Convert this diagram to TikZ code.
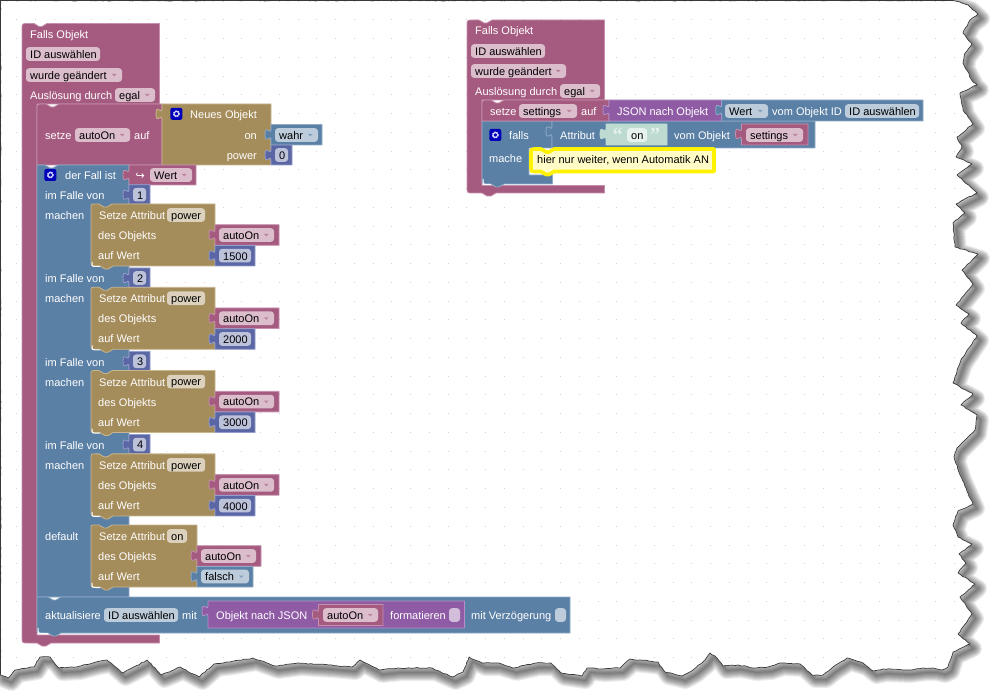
\documentclass[tikz,border=0pt]{standalone}
\usepackage{fontspec}
\setmainfont{Liberation Sans}
\newfontfamily\djv{DejaVu Sans}
\newfontfamily\lserif{Liberation Serif}
\usetikzlibrary{decorations.pathmorphing}
\definecolor{hatc}{HTML}{A55B80}\definecolor{hatl}{HTML}{C68FAB}\definecolor{hatf}{HTML}{DBBDCC}
\definecolor{bluc}{HTML}{5B80A5}\definecolor{blul}{HTML}{8FABC8}\definecolor{bluf}{HTML}{BDCCDB}
\definecolor{brnc}{HTML}{A58C5B}\definecolor{brnl}{HTML}{C8B68F}\definecolor{brnf}{HTML}{DBD1BD}
\definecolor{matc}{HTML}{5B67A5}\definecolor{matl}{HTML}{949DCB}\definecolor{matf}{HTML}{BDC2DB}
\definecolor{purc}{HTML}{8F5BA5}\definecolor{purl}{HTML}{B48FC8}\definecolor{purf}{HTML}{D2BDDB}
\definecolor{txtc}{HTML}{BDDBD1}\definecolor{txtf}{HTML}{E6F2EE}
\newcounter{nn}
\tikzset{
  lbl/.style={anchor=base west,inner sep=0pt,text=white,font=\fontsize{11}{13}\selectfont},
  flt/.style={anchor=base west,inner sep=0pt,text=black,font=\fontsize{11}{13}\selectfont},
  rlbl/.style={lbl,anchor=base east},
  blk/.style={line width=.8pt,line join=round},
  tornp/.style={line join=round}
}
% tab going upward
\newcommand\tabL[2]{-- (#1,#2+11) .. controls (#1,#2+3.7) and (#1-6,#2+16.9) .. (#1-6,#2+5.5) .. controls (#1-6,#2-5.9) and (#1,#2+7.3) .. (#1,#2)}
\newcommand\notchT[2]{-- (#1,#2) -- (#1+5,#2+3) -- (#1+8,#2+3) -- (#1+13,#2)}
\newcommand\notchB[2]{-- (#1+13,#2) -- (#1+8,#2+3) -- (#1+5,#2+3) -- (#1,#2)}
% text label: x, centre y, text
\newcommand\lbl[3]{\stepcounter{nn}\node[lbl] (n\arabic{nn}) at (#1,#2+4.7) {#3};}
\newcommand\rlb[3]{\stepcounter{nn}\node[rlbl] (n\arabic{nn}) at (#1,#2+4.7) {#3};}
% field: fill, x1, x2, cy, text
\newcommand\fld[5]{\fill[#1,rounded corners=3pt] (#2,#4-6.8) rectangle (#3,#4+6.8);
  \stepcounter{nn}\node[flt] (n\arabic{nn}) at (#2+4,#4+4.4) {#5};}
% dropdown field: fill, arrowcolour, x1, x2, cy, text
\newcommand\dfl[6]{\fld{#1}{#3}{#4}{#5}{#6}
  \fill[#2!75!white] (#4-10,#5-1) -- (#4-5.5,#5-1) -- (#4-7.75,#5+1.5) -- cycle;}
% value block: fill, stroke, x1,y1,x2,y2
\newcommand\vb[6]{\draw[blk,fill=#1,draw=#2] (#3,#4) -- (#5,#4) -- (#5,#6) -- (#3,#6) \tabL{#3}{#4+4.5} -- cycle;}
\newcommand\gear[2]{\fill[fill=blue!72!black,rounded corners=2pt] (#1-6,#2-6) rectangle (#1+6,#2+6);
  \draw[white!85!blue,line width=1.4pt,dash pattern=on 1.4pt off .9pt] (#1,#2) circle (2.8);
  \draw[white!85!blue,line width=.9pt] (#1,#2) circle (2.3);}
% Setze Attribut: top, x2, attr, attr field x2
\newcommand\setzeattr[4]{
  \draw[blk,fill=brnc,draw=brnl] (91,#1+4) .. controls (91,#1) .. (95,#1) \notchT{99}{#1} -- (#2,#1) -- (#2,#1+62) \notchB{100}{#1+62} -- (96,#1+62) .. controls (91,#1+62) .. (91,#1+57) -- cycle;
  \draw[white,line width=1pt] (92,#1+58) .. controls (92,#1+62.5) .. (96,#1+62.5) -- (100,#1+62.5);
  \lbl{99}{#1+11}{Setze Attribut}
  \fld{brnf}{167}{#4}{#1+11}{#3}
  \lbl{98}{#1+31}{des Objekts}
  \lbl{98}{#1+51}{auf Wert}
  \vb{hatc}{hatl}{#2}{#1+20.7}{#2+64}{#1+41.3}
  \dfl{hatf}{hatc}{#2+4}{#2+59}{#1+31}{autoOn}
}
\newcommand\caserow[3]{
  \lbl{45}{#1-9}{im Falle von}
  \lbl{45}{#1+11}{machen}
  \vb{matc}{matl}{129}{#1-19.3}{150}{#1}
  \fld{matf}{133}{146}{#1-9.3}{#2}
  \setzeattr{#1}{215}{power}{205}
  \vb{matc}{matl}{215}{#1+41.5}{255}{#1+62}
  \fld{matf}{219}{251}{#1+51.7}{#3}
}
\newcommand\hatblock[6]{% x1 x2 ytop yinner ybar1 ybar2
  \draw[blk,fill=hatc,draw=hatl] (#1,#3+6) .. controls (#1,#3) .. (#1+6,#3) \notchT{#1+12}{#3} -- (#2,#3) -- (#2,#4) -- (#1+15,#4) -- (#1+15,#5) -- (#2,#5) -- (#2,#6) -- (#1+29,#6) -- (#1+24,#6+3) -- (#1+20,#6+3) -- (#1+15,#6) -- (#1+6,#6) .. controls (#1,#6) .. (#1,#6-6) -- cycle;
}
\newcommand\tornpath{(0.5,0.5) -- (953,0.5) -- (968,5) -- (978,14) -- (970,20) -- (963,33) -- (972,44) -- (965,53) -- (963,63) -- (973,82) -- (977,85) -- (960,93) -- (963,110) -- (973,124) -- (957,137) -- (962,147) -- (956,157) -- (972,164) -- (957,175) -- (977,193) -- (956,204) -- (965,213) -- (953,223) -- (955,247) -- (978,254) -- (962,270) -- (973,284) -- (956,305) -- (969,314) -- (961,323) -- (977,336) -- (961,360) -- (953,383) -- (973,394) -- (961,405) -- (977,415) -- (975,430) -- (957,448) -- (954,457) -- (960,475) -- (968,493) -- (973,504) -- (958,511) -- (953,525) -- (958,537) -- (972,544) -- (959,554) -- (966,563) -- (958,573) -- (975,584) -- (960,597) -- (972,614) -- (958,634) -- (970,644) -- (953,652) -- (948,667) -- (942,670) -- (933,668) -- (923,668) -- (907,670) -- (883,669) -- (873,671) -- (863,663) -- (847,658) -- (833,667) -- (823,675) -- (812,675) -- (800,664) -- (780,663) -- (768,667) -- (753,668) -- (738,665) -- (723,666) -- (717,658) -- (710,653) -- (705,660) -- (693,670) -- (682,676) -- (665,672) -- (658,662) -- (640,660) -- (630,659) -- (620,668) -- (603,669) -- (587,668) -- (582,676) -- (561,673) -- (551,663) -- (536,663) -- (513,668) -- (497,663) -- (482,663) -- (469,657) -- (463,672) -- (452,677) -- (432,668) -- (398,668) -- (379,670) -- (360,660) -- (352,667) -- (329,665) -- (298,663) -- (275,666) -- (253,658) -- (230,662) -- (214,664) -- (199,677) -- (180,667) -- (161,675) -- (147,660) -- (132,668) -- (122,673) -- (107,660) -- (96,662) -- (77,667) -- (59,668) -- (50,657) -- (40,657) -- (34,667) -- (15,670) -- (8,678) -- (0.5,675) -- cycle}
\begin{document}
\begin{tikzpicture}[x=1pt,y=-1pt]
\useasboundingbox (0,0) rectangle (999,700);
\fill[white] (0,0) rectangle (999,700);
% shadow: soft, stacked strokes
\begin{scope}
\clip (0,0) rectangle (999,700);
\foreach \w in {17,15,13,11,9,7,5,3,1}{
  \draw[tornp,shift={(3.5,4.5)},draw=black,line width=\w pt,opacity=.075] \tornpath;
}
\end{scope}
% paper
\pgfmathsetseed{7}
\draw[fill=white,draw=black!78,line width=.7pt,line join=round,decorate,decoration={random steps,segment length=3pt,amplitude=.5pt}] \tornpath;
\draw[draw=black!78,line width=1.2pt] (0.5,675) -- (0.5,0.5) -- (953,0.5);
% grid dots
\begin{scope}
\clip \tornpath;
\foreach \i in {0,...,51}{\foreach \j in {0,...,36}{
  \fill[black!18] ({16.3+18.75*\i},{0.75+18.75*\j}) rectangle ++(1,1);
}}
\end{scope}

% ===== left programme =====
\hatblock{22}{159.5}{23.5}{104}{635}{643}
\lbl{30}{34}{Falls Objekt}
\fld{hatf}{26}{100}{54}{ID auswählen}
\dfl{hatf}{hatc}{26}{122}{75}{wurde geändert}
\lbl{30}{95}{Auslösung durch}
\dfl{hatf}{hatc}{115}{155}{95}{egal}
% setze autoOn
\draw[blk,fill=hatc,draw=hatl] (37,110) .. controls (37,104) .. (43,104) \notchT{46}{104} -- (162,104) -- (162,165) -- (37,165) -- cycle;
\lbl{45}{135}{setze}
\dfl{hatf}{hatc}{75}{130}{135}{autoOn}
\lbl{134}{135}{auf}
% Neues Objekt
\vb{brnc}{brnl}{162}{104}{271}{165}
\gear{176.4}{113.8}
\lbl{190}{114}{Neues Objekt}
\rlb{257}{135}{on}
\rlb{257}{155}{power}
\vb{bluc}{blul}{271}{124.5}{322}{145}
\dfl{bluf}{bluc}{275}{318}{135}{wahr}
\vb{matc}{matl}{271}{145}{292}{165}
\fld{matf}{275}{288}{155}{0}
% case block
\draw[blk,fill=bluc,draw=blul] (37,165) \notchT{45}{165} -- (129,165) -- (129,597) -- (37,597) -- cycle;
\gear{50.3}{175}
\lbl{65}{175}{der Fall ist}
\vb{hatc}{hatl}{129}{165}{196}{185}
\stepcounter{nn}\node[lbl,font=\djv\fontsize{11}{13}\selectfont] (n\arabic{nn}) at (135.5,179.5) {↪};
\dfl{hatf}{hatc}{150}{192}{175}{Wert}
\caserow{204}{1}{1500}
\caserow{287.3}{2}{2000}
\caserow{370.6}{3}{3000}
\caserow{453.9}{4}{4000}
\lbl{45}{536}{default}
\setzeattr{525}{197}{on}{187}
\vb{bluc}{blul}{197}{566.5}{253}{587}
\dfl{bluf}{bluc}{201}{249}{576.5}{falsch}
% aktualisiere
\draw[blk,fill=bluc,draw=blul] (37,597) \notchT{48}{597} -- (570,597) -- (570,633) \notchB{48}{633} -- (43,633) .. controls (37,633) .. (37,627) -- cycle;
\draw[white,line width=1pt] (38,628) .. controls (38,633.5) .. (43,633.5) -- (48,633.5);
\lbl{45}{615}{aktualisiere}
\fld{bluf}{104}{178}{615}{ID auswählen}
\lbl{182}{615}{mit}
\vb{purc}{purl}{208}{601}{464.5}{628}
\lbl{216}{615}{Objekt nach JSON}
\vb{hatc}{hatl}{318.5}{604.5}{383}{625.5}
\dfl{hatf}{hatc}{323}{378}{615}{autoOn}
\lbl{390}{615}{formatieren}
\fill[purf,rounded corners=3pt] (449,608.2) rectangle (460,621.8);
\lbl{471}{615}{mit Verzögerung}
\fill[bluf,rounded corners=3pt] (555,608.2) rectangle (566,621.8);

% ===== right programme =====
\hatblock{467}{604.5}{20}{100}{185.6}{193}
\lbl{475}{30}{Falls Objekt}
\fld{hatf}{471}{545}{51}{ID auswählen}
\dfl{hatf}{hatc}{471}{566}{71}{wurde geändert}
\lbl{475}{91}{Auslösung durch}
\dfl{hatf}{hatc}{560}{600}{91}{egal}
% falls
\draw[blk,fill=bluc,draw=blul] (482,121) -- (552,121) -- (552,148) -- (529,148) -- (529,175) -- (552.5,175) -- (552.5,184) \notchB{491}{184} -- (488,184) .. controls (482,184) .. (482,178) -- cycle;
\draw[white,line width=1pt] (483,179) .. controls (483,184.5) .. (488,184.5) -- (491,184.5);
\gear{495.3}{135}
\lbl{509}{135}{falls}
\lbl{489}{158}{mache}
\draw[blk,fill=bluc,draw=blul] (552,121) -- (815,121) -- (815,148) -- (552,148) \tabL{552}{126} -- cycle;
\lbl{560}{135}{Attribut}
\vb{txtc}{txtc}{606}{124}{667}{145}
\stepcounter{nn}\node[lbl,text=txtf,font=\lserif\bfseries\fontsize{20}{20}\selectfont] (n\arabic{nn}) at (612.5,142) {“};
\stepcounter{nn}\node[lbl,text=txtf,font=\lserif\bfseries\fontsize{20}{20}\selectfont] (n\arabic{nn}) at (650,142) {”};
\fld{txtf}{627}{647}{135}{on}
\lbl{674}{135}{vom Objekt}
\vb{hatc}{hatl}{741.5}{124}{808}{145}
\dfl{hatf}{hatc}{746}{803}{135}{settings}
% setze settings
\draw[blk,fill=hatc,draw=hatl] (482,106) .. controls (482,100) .. (488,100) \notchT{491}{100} -- (609,100) -- (609,121) -- (482,121) -- cycle;
\lbl{490}{111}{setze}
\dfl{hatf}{hatc}{519}{577}{111}{settings}
\lbl{581}{111}{auf}
\vb{purc}{purl}{609}{100}{721.7}{121}
\lbl{617}{111}{JSON nach Objekt}
\vb{bluc}{blul}{721.7}{100}{923}{121}
\dfl{bluf}{bluc}{725}{768}{111}{Wert}
\lbl{772}{111}{vom Objekt ID}
\fld{bluf}{845}{919}{111}{ID auswählen}
% comment
\draw[line width=3.6pt,draw=yellow,fill=yellow!22,line join=round] (531,154) .. controls (531,149) .. (536,149) \notchT{541}{149} -- (714,149) -- (714,171.5) \notchB{541}{171.5} -- (536,171.5) .. controls (531,171.5) .. (531,166.5) -- cycle;
\stepcounter{nn}\node[flt] (n\arabic{nn}) at (537,163.5) {hier nur weiter, wenn Automatik AN};
\end{tikzpicture}
\end{document}
